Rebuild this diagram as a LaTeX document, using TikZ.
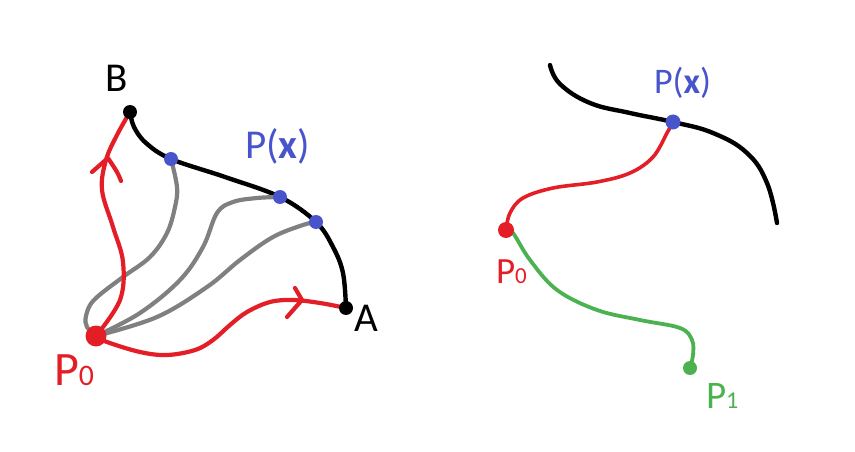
\documentclass[tikz,border=0pt]{standalone}
\usepackage{fontspec}
\setmainfont{Carlito}
\definecolor{cred}{RGB}{228,30,38}
\definecolor{cblue}{RGB}{72,84,204}
\definecolor{cgreen}{RGB}{76,178,80}
\definecolor{cgray}{RGB}{128,128,128}
\tikzset{
  blackline/.style={draw=black,line width=4.4pt,line cap=round},
  redline/.style={draw=cred,line width=4.2pt,line cap=round,line join=round},
  grayline/.style={draw=cgray,line width=4.2pt,line cap=round},
  greenline/.style={draw=cgreen,line width=3.8pt,line cap=round},
  lbl/.style={anchor=base west,inner sep=0pt,outer sep=0pt},
}
\newcommand{\subd}[1]{{\fontsize{0.62em}{0.62em}\selectfont #1}}
\begin{document}
\begin{tikzpicture}[x=1pt,y=-1pt]
\useasboundingbox (0,0) rectangle (855,452);
% ---------- left diagram ----------
\coordinate (B) at (130,112);
\coordinate (A) at (346,308);
\coordinate (P0) at (96,336);
\coordinate (X1) at (171,159);
\coordinate (X2) at (280,197);
\coordinate (X3) at (316,222);
% black curve B -> A
\draw[blackline] plot[smooth,tension=0.6] coordinates {(B) (134,127) (146,143) (X1) (225,177) (X2) (X3) (333,247) (343,273) (A)};
% gray curves
\draw[grayline] plot[smooth,tension=0.6] coordinates {(P0) (87,327) (86,316) (94,300) (123,277) (150,257) (167,233) (175,207) (177,187) (X1)};
\draw[grayline] plot[smooth,tension=0.6] coordinates {(P0) (140,313) (180,280) (203,247) (217,213) (233,202) (257,198) (X2)};
\draw[grayline] plot[smooth,tension=0.6] coordinates {(P0) (157,317) (207,287) (240,260) (273,237) (303,225) (X3)};
% red curves
\draw[redline] plot[smooth,tension=0.6] coordinates {(P0) (120,300) (123,262) (113,227) (102,190) (106,160) (117,135) (B)};
\draw[redline] (92,172) -- (108,158) .. controls (113,166) and (118,172) .. (121,181);
\draw[redline] plot[smooth,tension=0.6] coordinates {(P0) (107,342) (140,352) (167,355) (195,350) (213,340) (230,325) (247,312) (270,302) (293,300) (320,303) (A)};
\draw[redline] (295,288) -- (302,300) -- (287,317);
% dots
\fill[black] (B) circle (7);
\fill[black] (A) circle (7);
\fill[cblue] (X1) circle (7);
\fill[cblue] (X2) circle (7);
\fill[cblue] (X3) circle (7);
\fill[cred] (P0) circle (10.5);
% labels
\node[lbl,font=\fontsize{41}{41}\selectfont] (lB) at (105,92) {B};
\node[lbl,font=\fontsize{41}{41}\selectfont] (lA) at (354,331) {A};
\node[lbl,font=\fontsize{41}{41}\selectfont,text=cblue] (lPx) at (245,158) {P(\textbf{x})};
\node[lbl,font=\fontsize{48}{48}\selectfont,text=cred] (lP0) at (54,385) {P\subd{0}};
% ---------- right diagram ----------
\coordinate (Q) at (673,122);
\coordinate (R0) at (506,230);
\coordinate (G1) at (690,368);
\draw[blackline] plot[smooth,tension=0.7] coordinates {(550,65) (560,84) (590,103) (630,113) (Q) (713,133) (747,153) (767,183) (777,223)};
\draw[redline,line width=3.6pt] plot[smooth,tension=0.6] coordinates {(Q) (667,133) (653,157) (630,173) (597,182) (553,188) (523,198) (510,213) (R0)};
\draw[greenline] plot[smooth,tension=0.6] coordinates {(R0) (513,233) (530,260) (557,290) (597,310) (640,320) (680,328) (692,340) (693,355) (G1)};
\fill[cblue] (Q) circle (7.5);
\fill[cred] (R0) circle (8);
\fill[cgreen] (G1) circle (7);
\node[lbl,font=\fontsize{36}{36}\selectfont,text=cblue] (rPx) at (654,94) {P(\textbf{x})};
\node[lbl,font=\fontsize{37}{37}\selectfont,text=cred] (rP0) at (496,283) {P\subd{0}};
\node[lbl,font=\fontsize{39}{39}\selectfont,text=cgreen] (rP1) at (706,408) {P\subd{1}};
\end{tikzpicture}
\end{document}
